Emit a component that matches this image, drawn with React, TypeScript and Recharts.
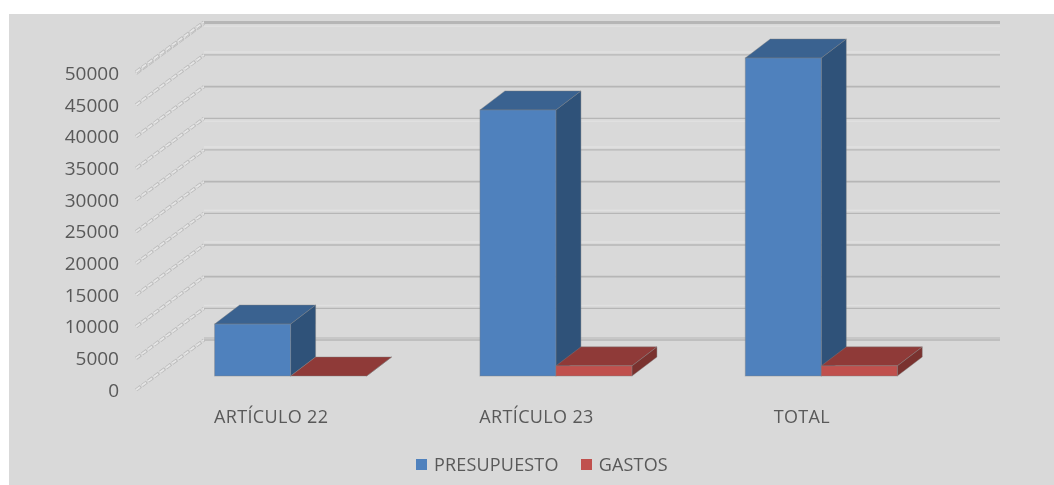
import React from 'react';
import { BarChart, Bar, XAxis, YAxis, CartesianGrid, Legend } from 'recharts';

const categories = ['ARTÍCULO 22', 'ARTÍCULO 23', 'TOTAL'];
const presupuesto = [8200, 42000, 50200];
const gastos = [0, 1600, 1600];
const yTicks = [0, 5000, 10000, 15000, 20000, 25000, 30000, 35000, 40000, 45000, 50000];
const tableData = categories.map((name, i) => ({ name, PRESUPUESTO: presupuesto[i], GASTOS: gastos[i] }));

const FONT = '"Open Sans", sans-serif';
const TEXT = '#595959';
const BLUE = { front: '#4F81BD', top: '#3A6290', side: '#2F5279' };
const RED = { front: '#C0504D', top: '#8F3A38', side: '#7A322F' };

// depth of the floor, and where the bars sit inside it
const WALL_DX = 68;
const WALL_DY = 50;
const BAR_DX = 21.6;
const BAR_DY = 14;
const BOX_DX = 25;
const BOX_DY = 19;

// the reference's wall lines are resampled: each has a pale twin offset above/below, or doubles up (bottom line first)
const twinOffsets = [-2, -3, 0, -3, -3, 0, -3, 3, 0, -3, 3];

function GridLine(props: any) {
  const { x1, x2, y1, index } = props;
  const bx = x1 + WALL_DX;
  const by = y1 - WALL_DY;
  const twin = twinOffsets[index] ?? 0;
  return (
    <g>
      <line x1={x1} y1={y1} x2={bx} y2={by} stroke="#bcbcbc" strokeWidth={3.4} strokeDasharray="6 1.5" />
      <line x1={x1} y1={y1} x2={bx} y2={by} stroke="#e6e6e6" strokeWidth={1.8} strokeDasharray="5 2.5" />
      {twin !== 0 && (
        <line x1={bx} y1={by + twin} x2={x2 + WALL_DX} y2={by + twin} stroke={index === 0 ? '#c0c0c0' : '#e0e0e0'} strokeWidth={1.4} />
      )}
      <line x1={bx} y1={by} x2={x2 + WALL_DX} y2={by} stroke="#b6b6b6" strokeWidth={twin === 0 ? 1.8 : 1.3} />
    </g>
  );
}

function Box3D(props: any) {
  const { x, y, width, height, colors } = props;
  const l = x + BAR_DX;
  const r = l + width;
  const t = y - BAR_DY;
  const b = t + height;
  const edge = { stroke: '#7f7f7f', strokeOpacity: 0.4, strokeWidth: 1 };
  return (
    <g>
      <polygon
        points={`${r},${t} ${r + BOX_DX},${t - BOX_DY} ${r + BOX_DX},${b - BOX_DY} ${r},${b}`}
        fill={colors.side}
        {...edge}
      />
      <polygon
        points={`${l},${t} ${l + BOX_DX},${t - BOX_DY} ${r + BOX_DX},${t - BOX_DY} ${r},${t}`}
        fill={colors.top}
        {...edge}
      />
      <rect x={l} y={t} width={width} height={height} fill={colors.front} {...edge} />
    </g>
  );
}

function LegendContent({ payload }: any) {
  return (
    <div style={{ height: 40, paddingLeft: 407, display: 'flex', alignItems: 'center', boxSizing: 'border-box', transform: 'translateY(-1px)' }}>
      {(payload || []).map((item: any) => (
        <div key={item.value} style={{ display: 'flex', alignItems: 'center', marginRight: 22 }}>
          <span style={{ width: 11, height: 11, background: item.color, display: 'inline-block', marginRight: 7 }} />
          <span style={{ font: `18px ${FONT}`, color: TEXT, letterSpacing: 0.18 }}>{item.value}</span>
        </div>
      ))}
    </div>
  );
}

export default function App() {
  return (
    <div style={{ position: 'absolute', left: 9, top: 14, width: 1045, height: 471, background: '#D9D9D9', filter: 'blur(0.5px)' }}>
      <BarChart
        width={1045}
        height={471}
        data={tableData}
        barSize={76}
        barGap={0}
        margin={{ top: 58, right: 122, bottom: 0, left: 0 }}
      >
        <CartesianGrid vertical={false} horizontal={(p: any) => <GridLine key={p.key ?? p.y1} {...p} />} />
        <XAxis
          dataKey="name"
          axisLine={false}
          tickLine={false}
          height={55}
          interval={0}
          tickMargin={14}
          tick={{ fill: TEXT, fontFamily: FONT, fontSize: 18, dx: 2.5, letterSpacing: 0.35 }}
        />
        <YAxis
          width={127}
          domain={[0, 50000]}
          ticks={yTicks}
          interval={0}
          axisLine={false}
          tickLine={false}
          tickMargin={11}
          tick={{ fill: TEXT, fontFamily: FONT, fontSize: 19, dy: 0 }}
        />
        <Legend
          verticalAlign="bottom"
          align="left"
          itemSorter={null}
          content={<LegendContent />}
          wrapperStyle={{ left: 0, width: 1045 }}
        />
        <Bar dataKey="PRESUPUESTO" fill={BLUE.front} isAnimationActive={false} shape={(p: any) => <Box3D {...p} colors={BLUE} />} />
        <Bar dataKey="GASTOS" fill={RED.front} isAnimationActive={false} shape={(p: any) => <Box3D {...p} colors={RED} />} />
      </BarChart>
    </div>
  );
}
